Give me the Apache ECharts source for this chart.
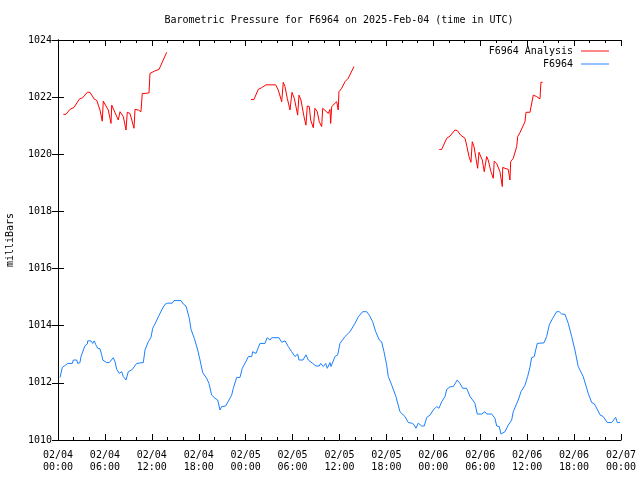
<!DOCTYPE html>
<html>
<head>
<meta charset="utf-8">
<script src="https://cdn.jsdelivr.net/npm/echarts@6/dist/echarts.min.js"></script>
<style>html,body{margin:0;padding:0;background:#fff;}#c{width:640px;height:480px;}</style>
</head>
<body>
<div id="c"></div>
<script>
var titleText = 'Barometric Pressure for F6964 on 2025-Feb-04 (time in UTC)';
var yAxisName = 'milliBars';
var seriesNames = ['F6964 Analysis', 'F6964'];
var xTickLabels = ['02/04\n00:00','02/04\n06:00','02/04\n12:00','02/04\n18:00','02/05\n00:00','02/05\n06:00','02/05\n12:00','02/05\n18:00','02/06\n00:00','02/06\n06:00','02/06\n12:00','02/06\n18:00','02/07\n00:00'];

// Analysis (red), three segments: hours since 02/04 00:00 UTC, values in mb
var analysisHours1 = [0.68,1.02,1.53,2.05,2.72,3.16,3.75,4.09,4.64,4.95,5.37,5.66,5.79,6.01,6.43,6.78,6.87,7.07,7.71,7.93,8.35,8.70,8.86,9.21,9.72,9.85,10.27,10.61,10.78,11.13,11.64,11.76,12.40,12.92,13.90];
var analysisValues1 = [1021.40,1021.40,1021.57,1021.64,1021.93,1021.98,1022.17,1022.17,1021.93,1021.89,1021.55,1021.16,1021.86,1021.84,1021.55,1021.08,1021.72,1021.66,1021.20,1021.49,1021.32,1020.85,1021.47,1021.43,1020.91,1021.57,1021.55,1021.49,1022.13,1022.13,1022.15,1022.83,1022.92,1022.97,1023.57];
var analysisHours2 = [24.68,25.06,25.61,26.05,26.60,27.84,28.17,28.61,28.81,29.03,29.32,29.67,29.92,30.22,30.65,30.82,31.07,31.46,31.71,31.88,32.14,32.31,32.65,32.86,33.16,33.41,33.72,33.85,34.57,34.78,34.87,35.00,35.64,35.84,35.93,36.28,36.70,37.12,37.85];
var analysisValues2 = [1021.92,1021.92,1022.27,1022.33,1022.43,1022.43,1022.25,1021.84,1022.52,1022.37,1021.96,1021.55,1022.17,1021.96,1021.37,1022.07,1021.90,1021.32,1021.02,1021.69,1021.67,1021.20,1020.93,1021.61,1021.49,1021.14,1020.97,1021.61,1021.43,1021.57,1021.08,1021.67,1021.84,1021.55,1022.19,1022.31,1022.54,1022.66,1023.07];
var analysisHours3 = [48.76,49.07,49.71,50.13,50.77,51.06,51.50,52.05,52.26,52.56,52.81,52.98,53.20,53.45,53.67,53.84,54.05,54.26,54.51,54.82,55.02,55.37,55.67,55.79,56.10,56.52,56.82,56.87,57.16,57.58,57.80,57.89,58.22,58.66,58.79,59.08,59.72,59.85,60.36,60.78,61.21,61.64,61.76,61.98];
var analysisValues3 = [1020.17,1020.17,1020.56,1020.64,1020.85,1020.83,1020.67,1020.56,1020.32,1019.92,1019.72,1020.44,1020.27,1019.86,1019.51,1020.07,1020.07,1019.80,1019.39,1019.92,1019.80,1019.39,1019.16,1019.76,1019.68,1019.39,1018.87,1019.54,1019.51,1019.47,1019.10,1019.74,1019.86,1020.27,1020.62,1020.76,1021.14,1021.47,1021.47,1022.07,1022.02,1021.94,1022.52,1022.52];

// Observed (blue)
var obsHours = [0.26,0.55,0.81,1.24,1.83,1.96,2.39,2.52,2.81,2.94,3.45,3.75,3.80,4.22,4.44,4.64,4.82,5.08,5.37,5.59,5.72,5.92,6.23,6.56,7.07,7.29,7.51,7.84,8.15,8.35,8.70,8.99,9.50,10.06,10.91,11.13,11.55,11.89,12.11,12.40,12.83,13.26,13.68,14.03,14.62,14.83,15.73,16.02,16.37,16.79,17.01,17.43,17.87,18.16,18.50,19.01,19.31,19.65,20.08,20.42,20.72,20.93,21.44,22.21,22.42,22.85,23.27,23.57,24.13,24.34,24.77,24.90,25.32,25.83,26.47,26.76,27.11,27.33,28.26,28.61,29.03,29.45,29.88,30.31,30.65,30.82,31.07,31.33,31.71,32.01,32.57,32.99,33.41,33.59,33.93,34.23,34.44,34.78,34.91,35.42,35.77,36.06,36.70,37.34,37.98,38.40,38.96,39.48,39.81,40.24,40.63,41.09,41.39,41.69,42.03,42.24,42.67,43.22,43.73,43.95,44.37,44.80,45.23,45.52,45.78,46.07,46.51,46.84,47.15,47.57,47.99,48.43,48.72,49.07,49.49,49.71,50.13,50.55,51.06,51.41,51.75,52.26,52.69,53.03,53.32,53.62,54.18,54.60,54.82,55.46,55.88,56.10,56.43,56.65,57.16,57.58,58.02,58.22,58.86,59.21,59.72,60.06,60.36,60.57,60.91,61.09,61.29,62.15,62.49,62.83,63.26,63.77,64.10,64.41,64.83,65.26,65.69,66.11,66.53,67.17,67.81,68.25,68.58,69.01,69.31,69.73,70.24,70.80,71.32,71.53,71.87];
var obsValues = [1012.19,1012.54,1012.59,1012.68,1012.68,1012.80,1012.80,1012.68,1012.71,1012.92,1013.30,1013.36,1013.47,1013.47,1013.38,1013.47,1013.34,1013.21,1013.19,1012.98,1012.80,1012.86,1012.71,1012.71,1012.88,1012.74,1012.47,1012.33,1012.39,1012.22,1012.10,1012.39,1012.47,1012.68,1012.71,1013.15,1013.44,1013.59,1013.91,1014.06,1014.31,1014.55,1014.75,1014.79,1014.79,1014.88,1014.88,1014.76,1014.69,1014.26,1013.87,1013.56,1013.15,1012.80,1012.36,1012.16,1011.98,1011.57,1011.46,1011.40,1011.05,1011.17,1011.19,1011.57,1011.81,1012.19,1012.19,1012.51,1012.80,1012.92,1012.92,1013.09,1013.03,1013.38,1013.38,1013.58,1013.50,1013.58,1013.58,1013.42,1013.47,1013.27,1013.09,1012.92,1013.01,1012.80,1012.86,1012.80,1012.98,1012.80,1012.68,1012.59,1012.59,1012.68,1012.57,1012.68,1012.51,1012.71,1012.57,1012.92,1012.98,1013.38,1013.62,1013.79,1014.08,1014.31,1014.49,1014.49,1014.37,1014.14,1013.79,1013.50,1013.44,1013.09,1012.63,1012.22,1011.93,1011.52,1010.99,1011.05,1010.82,1010.61,1010.59,1010.54,1010.41,1010.59,1010.49,1010.49,1010.79,1010.87,1011.05,1011.17,1011.11,1011.34,1011.52,1011.77,1011.86,1011.87,1012.10,1011.98,1011.81,1011.81,1011.52,1011.40,1011.28,1010.91,1010.91,1010.99,1010.91,1010.91,1010.76,1010.49,1010.47,1010.21,1010.29,1010.52,1010.70,1010.99,1011.40,1011.69,1011.92,1012.22,1012.55,1012.88,1012.92,1013.15,1013.38,1013.40,1013.62,1014.03,1014.26,1014.49,1014.49,1014.41,1014.40,1014.08,1013.62,1013.15,1012.57,1012.22,1011.63,1011.31,1011.27,1011.05,1010.88,1010.82,1010.61,1010.61,1010.79,1010.61,1010.61];

function pairs(h, v) { var out = []; for (var i = 0; i < h.length; i++) out.push([h[i], v[i]]); return out; }
var analysisData = pairs(analysisHours1, analysisValues1)
  .concat([[20, null]])
  .concat(pairs(analysisHours2, analysisValues2))
  .concat([[44, null]])
  .concat(pairs(analysisHours3, analysisValues3));
var obsData = pairs(obsHours, obsValues);

var FONT = 'DejaVu Sans Mono';
var chart = echarts.init(document.getElementById('c'), null, {renderer: 'canvas'});
var axisLineStyle = {color: '#000', width: 1};
var lineIcon = 'path://M0,0H30V1H0Z';
chart.setOption({
  animation: false,
  backgroundColor: '#fff',
  title: {
    text: titleText, left: 339, top: 15, textAlign: 'center', padding: 0,
    textStyle: {fontFamily: FONT, fontSize: 10, fontWeight: 'normal', color: '#000'}
  },
  legend: {
    orient: 'vertical', right: 26, top: 41, align: 'right',
    itemWidth: 28, itemHeight: 12, itemGap: 3, icon: lineIcon, symbolKeepAspect: true,
    textStyle: {fontFamily: FONT, fontSize: 10, color: '#000', padding: [0, 3, 0, 0]},
    data: seriesNames
  },
  grid: {left: 58, right: 19, top: 40, bottom: 40, containLabel: false, outerBoundsMode: 'none'},
  xAxis: [{
    type: 'value', min: 0, max: 72, interval: 6,
    axisLine: {show: true, lineStyle: axisLineStyle},
    axisTick: {show: true, inside: true, length: 6, lineStyle: axisLineStyle},
    minorTick: {show: true, splitNumber: 3, length: 3, lineStyle: axisLineStyle},
    splitLine: {show: false},
    axisLabel: {
      fontFamily: FONT, fontSize: 10, color: '#000', margin: 9, lineHeight: 12,
      formatter: function (v) { return xTickLabels[Math.round(v / 6)]; }
    }
  }, {
    type: 'value', position: 'top', min: 0, max: 72, interval: 6,
    axisLine: {show: true, lineStyle: axisLineStyle},
    axisTick: {show: true, inside: true, length: 6, lineStyle: axisLineStyle},
    minorTick: {show: true, splitNumber: 3, length: 3, lineStyle: axisLineStyle},
    splitLine: {show: false}, axisLabel: {show: false}
  }],
  yAxis: [{
    type: 'value', min: 1010, max: 1024, interval: 2,
    name: yAxisName, nameLocation: 'middle', nameGap: 43,
    nameTextStyle: {fontFamily: FONT, fontSize: 10, color: '#000'},
    axisLine: {show: true, lineStyle: axisLineStyle},
    axisTick: {show: true, inside: true, length: 6, lineStyle: axisLineStyle},
    splitLine: {show: false},
    axisLabel: {fontFamily: FONT, fontSize: 10, color: '#000', margin: 6,
      formatter: function (v) { return String(v); }}
  }, {
    type: 'value', position: 'right', min: 1010, max: 1024, interval: 2,
    axisLine: {show: true, lineStyle: axisLineStyle},
    axisTick: {show: true, inside: true, length: 6, lineStyle: axisLineStyle},
    splitLine: {show: false}, axisLabel: {show: false}
  }],
  series: [{
    name: seriesNames[0], type: 'line', xAxisIndex: 0, yAxisIndex: 0,
    data: analysisData, showSymbol: false, symbol: 'none', connectNulls: false,
    lineStyle: {color: '#ff0000', width: 1}, itemStyle: {color: '#ff0000'}
  }, {
    name: seriesNames[1], type: 'line', xAxisIndex: 0, yAxisIndex: 0,
    data: obsData, showSymbol: false, symbol: 'none',
    lineStyle: {color: '#1a80ff', width: 1}, itemStyle: {color: '#1a80ff'}
  }]
});
</script>
</body>
</html>
